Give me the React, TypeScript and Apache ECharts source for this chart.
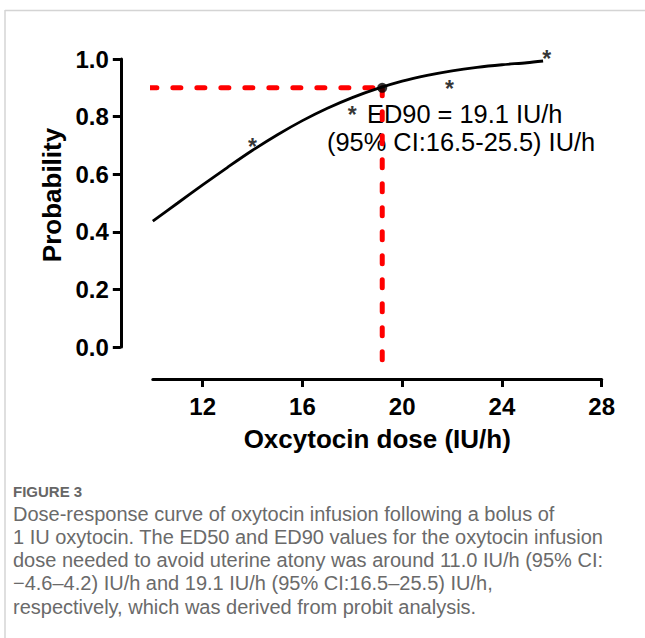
import React, { useEffect, useRef } from "react";
import * as echarts from "echarts";

// Fitted probit curve
const curveX = [10, 11, 12, 13, 14, 15, 16, 17, 18, 19, 20, 21, 22, 23, 24, 25, 25.65];
const curveY = [0.437, 0.5, 0.563, 0.624, 0.683, 0.737, 0.786, 0.829, 0.866, 0.897, 0.923, 0.943, 0.959, 0.971, 0.98, 0.987, 0.993];

// Observed points drawn as asterisks
const starX = [14.0, 18.0, 21.9, 25.8];
const starY = [0.713, 0.825, 0.916, 1.02];

// ED90 point and guide lines
const ed90X = 19.2;
const ed90Y = 0.9;
const guideStartX = 8.88;
const guideEndY = -0.073;

const xTicks = [12, 16, 20, 24, 28];
const yTicks = [0, 0.2, 0.4, 0.6, 0.8, 1.0];

const annotationLines = ["ED90 = 19.1 IU/h", "(95% CI:16.5-25.5) IU/h"];
const captionTitle = "FIGURE 3";
const captionLines = [
  "Dose-response curve of oxytocin infusion following a bolus of",
  "1 IU oxytocin. The ED50 and ED90 values for the oxytocin infusion",
  "dose needed to avoid uterine atony was around 11.0 IU/h (95% CI:",
  "\u22124.6\u20134.2) IU/h and 19.1 IU/h (95% CI:16.5\u201325.5) IU/h,",
  "respectively, which was derived from probit analysis.",
];

const FONT = "'Liberation Sans', Arial, Helvetica, sans-serif";
const CAP_FONT = "'Liberation Sans', Arial, sans-serif";

export default function App() {
  const ref = useRef<HTMLDivElement>(null);
  useEffect(() => {
    if (!ref.current) return;
    const chart = echarts.init(ref.current, undefined, { renderer: "svg" });
    const curveData = curveX.map((x, i) => [x, curveY[i]]);
    const starData = starX.map((x, i) => [x, starY[i]]);
    const graphics: any[] = [
      { type: "line", shape: { x1: 5, y1: 10.5, x2: 645, y2: 10.5 }, style: { stroke: "#d4d4d4", lineWidth: 1.5 }, silent: true },
      { type: "line", shape: { x1: 5, y1: 10, x2: 5, y2: 638 }, style: { stroke: "#d4d4d4", lineWidth: 1.5 }, silent: true },
      {
        type: "text", x: 367, y: 113.5, z: 0,
        style: { text: annotationLines[0], fill: "#000", fontSize: 25.4, lineHeight: 26, fontFamily: FONT, textAlign: "left", textVerticalAlign: "middle" },
      },
      {
        type: "text", x: 327, y: 142, z: 0,
        style: { text: annotationLines[1], fill: "#000", fontSize: 25.4, lineHeight: 26, fontFamily: FONT, textAlign: "left", textVerticalAlign: "middle" },
      },
      {
        type: "text", x: 13, y: 491,
        style: { text: captionTitle, fill: "#666", fontSize: 15, lineHeight: 17, fontWeight: "bold", fontFamily: CAP_FONT, textAlign: "left", textVerticalAlign: "middle" },
      },
      ...captionLines.map((t, i) => ({
        type: "text", x: 13, y: 513.5 + i * 23.3,
        style: { text: t, fill: "#6a6a6a", fontSize: 20, lineHeight: 22, fontFamily: CAP_FONT, textAlign: "left", textVerticalAlign: "middle" },
      })),
    ];
    chart.setOption({
      animation: false,
      backgroundColor: "#fff",
      grid: { left: 152.8, right: 43.3, top: 59, bottom: 291, containLabel: false },
      xAxis: {
        type: "value",
        min: 10,
        max: 28,
        offset: 32,
        name: "Oxcytocin dose (IU/h)",
        nameLocation: "middle",
        nameGap: 47,
        nameTextStyle: { fontSize: 26, fontWeight: "bold", fontFamily: FONT, color: "#000" },
        axisLine: { show: true, onZero: false, lineStyle: { color: "#000", width: 3 } },
        axisTick: { show: true, length: 8, customValues: xTicks, lineStyle: { color: "#000", width: 3 } },
        axisLabel: { customValues: xTicks, fontSize: 24, fontWeight: "bold", fontFamily: FONT, color: "#000", margin: 15 },
        splitLine: { show: false },
      },
      yAxis: {
        type: "value",
        min: 0,
        max: 1,
        interval: 0.2,
        offset: 32,
        name: "Probability",
        nameLocation: "middle",
        nameGap: 56,
        nameTextStyle: { fontSize: 26, fontWeight: "bold", fontFamily: FONT, color: "#000", padding: [0, 0, 0, 16] },
        axisLine: { show: true, onZero: false, lineStyle: { color: "#000", width: 3 } },
        axisTick: { show: true, length: 8, customValues: yTicks, lineStyle: { color: "#000", width: 3 } },
        axisLabel: {
          customValues: yTicks,
          fontSize: 24, fontWeight: "bold", fontFamily: FONT, color: "#000", margin: 12,
          formatter: (v: number) => v.toFixed(1),
        },
        splitLine: { show: false },
      },
      graphic: graphics,
      series: [
        {
          type: "line",
          data: [[guideStartX, ed90Y], [ed90X, ed90Y]],
          clip: false,
          symbol: "none",
          lineStyle: { color: "#ff0000", width: 5, type: [8, 16], cap: "round" },
          z: 3,
        },
        {
          type: "line",
          data: [[ed90X, ed90Y], [ed90X, guideEndY]],
          clip: false,
          symbol: "none",
          lineStyle: { color: "#ff0000", width: 5, type: [8, 16], cap: "round" },
          z: 3,
        },
        {
          type: "line",
          data: curveData,
          smooth: 0.3,
          symbol: "none",
          clip: false,
          lineStyle: { color: "#000", width: 2.8 },
          z: 4,
        },
        {
          type: "scatter",
          data: [[ed90X, ed90Y]],
          symbol: "circle",
          symbolSize: 10,
          itemStyle: { color: "#000" },
          z: 5,
        },
        {
          type: "scatter",
          data: starData,
          clip: false,
          symbolSize: 1,
          itemStyle: { color: "rgba(0,0,0,0)" },
          label: {
            show: true,
            formatter: "*",
            position: "inside",
            offset: [0, 5.5],
            fontSize: 23,
            lineHeight: 16,
            fontWeight: "bold",
            fontFamily: FONT,
            color: "#000",
          },
          z: 5,
        },
      ],
    });
    return () => chart.dispose();
  }, []);
  return <div ref={ref} style={{ position: "absolute", left: 0, top: 0, width: 645, height: 638 }} />;
}
